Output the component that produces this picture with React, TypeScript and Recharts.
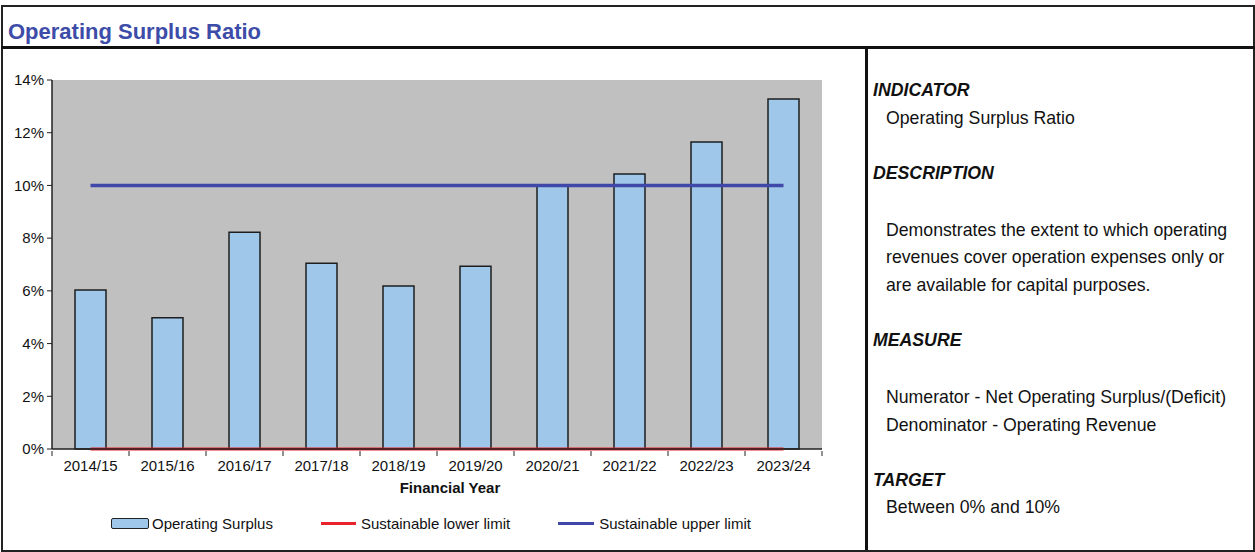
import React from 'react';
import {
  ComposedChart, Bar, Line, XAxis, YAxis, CartesianGrid, Legend,
} from 'recharts';

const categories = ['2014/15', '2015/16', '2016/17', '2017/18', '2018/19', '2019/20', '2020/21', '2021/22', '2022/23', '2023/24'];
const operatingSurplus = [6.03, 4.98, 8.22, 7.05, 6.18, 6.93, 9.98, 10.43, 11.65, 13.28];
const lowerLimit = [0, 0, 0, 0, 0, 0, 0, 0, 0, 0];
const upperLimit = [10, 10, 10, 10, 10, 10, 10, 10, 10, 10];
const yTicks = [0, 2, 4, 6, 8, 10, 12, 14];

const data = categories.map((c, i) => ({
  year: c,
  surplus: operatingSurplus[i],
  lower: lowerLimit[i],
  upper: upperLimit[i],
}));

const CHART_FONT = '"Liberation Sans Narrow", "Arial Narrow", "Liberation Sans", Arial, sans-serif';
const PANEL_FONT = '"Liberation Sans", Arial, sans-serif';
const BAR_FILL = '#9FC7EA';
const RED = '#E8232B';
const BLUE = '#3F48A8';

const XTick = (props: any) => {
  const { x, y, payload, index, visibleTicksCount } = props;
  const half = 38.5;
  return (
    <g>
      <line x1={x - half} y1={y - 6} x2={x - half} y2={y - 1} stroke="#222" strokeWidth={1} />
      {index === visibleTicksCount - 1 && (
        <line x1={x + half} y1={y - 6} x2={x + half} y2={y - 1} stroke="#222" strokeWidth={1} />
      )}
      <text x={x} y={y + 14} textAnchor="middle" fontSize={15} fill="#111" fontFamily={CHART_FONT}>
        {payload.value}
      </text>
    </g>
  );
};

const LegendContent = () => (
  <div style={{ display: 'flex', alignItems: 'center', fontFamily: CHART_FONT, fontSize: 15, color: '#111', whiteSpace: 'nowrap' }}>
    <span style={{ display: 'inline-block', width: 36, height: 9, background: BAR_FILL, border: '1.5px solid #222', borderRadius: 2, marginRight: 3 }} />
    <span style={{ marginRight: 48 }}>Operating Surplus</span>
    <span style={{ display: 'inline-block', width: 35, height: 3, background: RED, marginRight: 5 }} />
    <span style={{ marginRight: 48 }}>Sustainable lower limit</span>
    <span style={{ display: 'inline-block', width: 36, height: 3, background: BLUE, marginRight: 5 }} />
    <span>Sustainable upper limit</span>
  </div>
);

const heading: React.CSSProperties = { position: 'absolute', left: 873, fontFamily: PANEL_FONT, fontWeight: 'bold', fontStyle: 'italic', fontSize: 17.7, color: '#111', lineHeight: '20px' };
const body: React.CSSProperties = { position: 'absolute', left: 886, fontFamily: PANEL_FONT, fontSize: 17.7, color: '#111', lineHeight: '20px', whiteSpace: 'nowrap' };

export default function App() {
  return (
    <div style={{ position: 'absolute', left: 0, top: 0, width: 1255, height: 552, background: '#fff', overflow: 'hidden' }}>
      {/* outer frame */}
      <div style={{ position: 'absolute', left: 1, top: 5, width: 1250, height: 543, border: '2px solid #222' }} />
      {/* title divider */}
      <div style={{ position: 'absolute', left: 1, top: 46, width: 1254, height: 3, background: '#111' }} />
      {/* vertical divider */}
      <div style={{ position: 'absolute', left: 865, top: 48, width: 3, height: 502, background: '#111' }} />
      <div style={{ position: 'absolute', left: 8, top: 19, fontFamily: CHART_FONT, fontWeight: 'bold', fontSize: 22, color: '#3D4CA8', lineHeight: '26px', whiteSpace: 'nowrap' }}>
        Operating Surplus Ratio
      </div>

      <div style={{ position: 'absolute', left: 0, top: 48 }}>
        <ComposedChart width={866} height={502} data={data} margin={{ top: 32, right: 44, left: 0, bottom: 51 }} barCategoryGap={0}>
          <CartesianGrid fill="#C0C0C0" horizontal={false} vertical={false} stroke="none" />
          <XAxis dataKey="year" xAxisId="top" orientation="top" height={0} tick={false} tickLine={false} axisLine={{ stroke: '#8a8a8a', strokeWidth: 1.5 }} />
          <XAxis
            dataKey="year"
            height={50}
            tickLine={false}
            axisLine={{ stroke: '#222', strokeWidth: 1.5 }}
            tick={<XTick />}
            interval={0}
            label={{ value: 'Financial Year', position: 'insideBottom', offset: 6, dx: 13, style: { fontFamily: CHART_FONT, fontWeight: 'bold', fontSize: 15, fill: '#111' } }}
          />
          <YAxis
            domain={[0, 14]}
            ticks={yTicks}
            width={52}
            tickSize={5}
            tickMargin={3}
            tickLine={{ stroke: '#222' }}
            axisLine={{ stroke: '#222', strokeWidth: 1.5 }}
            tickFormatter={(v: number) => `${v}%`}
            tick={{ fontFamily: CHART_FONT, fontSize: 15, fill: '#111' }}
            interval={0}
          />
          <YAxis yAxisId="r" orientation="right" width={0} domain={[0, 14]} tick={false} tickLine={false} axisLine={{ stroke: '#d8d8d8', strokeWidth: 2 }} />
          <Bar dataKey="surplus" name="Operating Surplus" fill={BAR_FILL} stroke="#1e1e1e" strokeWidth={1.5} barSize={31} isAnimationActive={false} />
          <Line dataKey="lower" name="Sustainable lower limit" stroke={RED} strokeWidth={3} dot={false} activeDot={false} isAnimationActive={false} />
          <Line dataKey="upper" name="Sustainable upper limit" stroke={BLUE} strokeWidth={3.5} dot={false} activeDot={false} isAnimationActive={false} />
          <Legend layout="vertical" align="center" verticalAlign="middle" content={<LegendContent />} wrapperStyle={{ position: 'absolute', left: 111, top: 467, width: 'auto' }} />
        </ComposedChart>
      </div>

      <div style={{ ...heading, top: 80 }}>INDICATOR</div>
      <div style={{ ...body, top: 108 }}>Operating Surplus Ratio</div>
      <div style={{ ...heading, top: 163 }}>DESCRIPTION</div>
      <div style={{ ...body, top: 220 }}>Demonstrates the extent to which operating</div>
      <div style={{ ...body, top: 247 }}>revenues cover operation expenses only or</div>
      <div style={{ ...body, top: 275 }}>are available for capital purposes.</div>
      <div style={{ ...heading, top: 330 }}>MEASURE</div>
      <div style={{ ...body, top: 387 }}>Numerator - Net Operating Surplus/(Deficit)</div>
      <div style={{ ...body, top: 415 }}>Denominator - Operating Revenue</div>
      <div style={{ ...heading, top: 470 }}>TARGET</div>
      <div style={{ ...body, top: 497 }}>Between 0% and 10%</div>
    </div>
  );
}
